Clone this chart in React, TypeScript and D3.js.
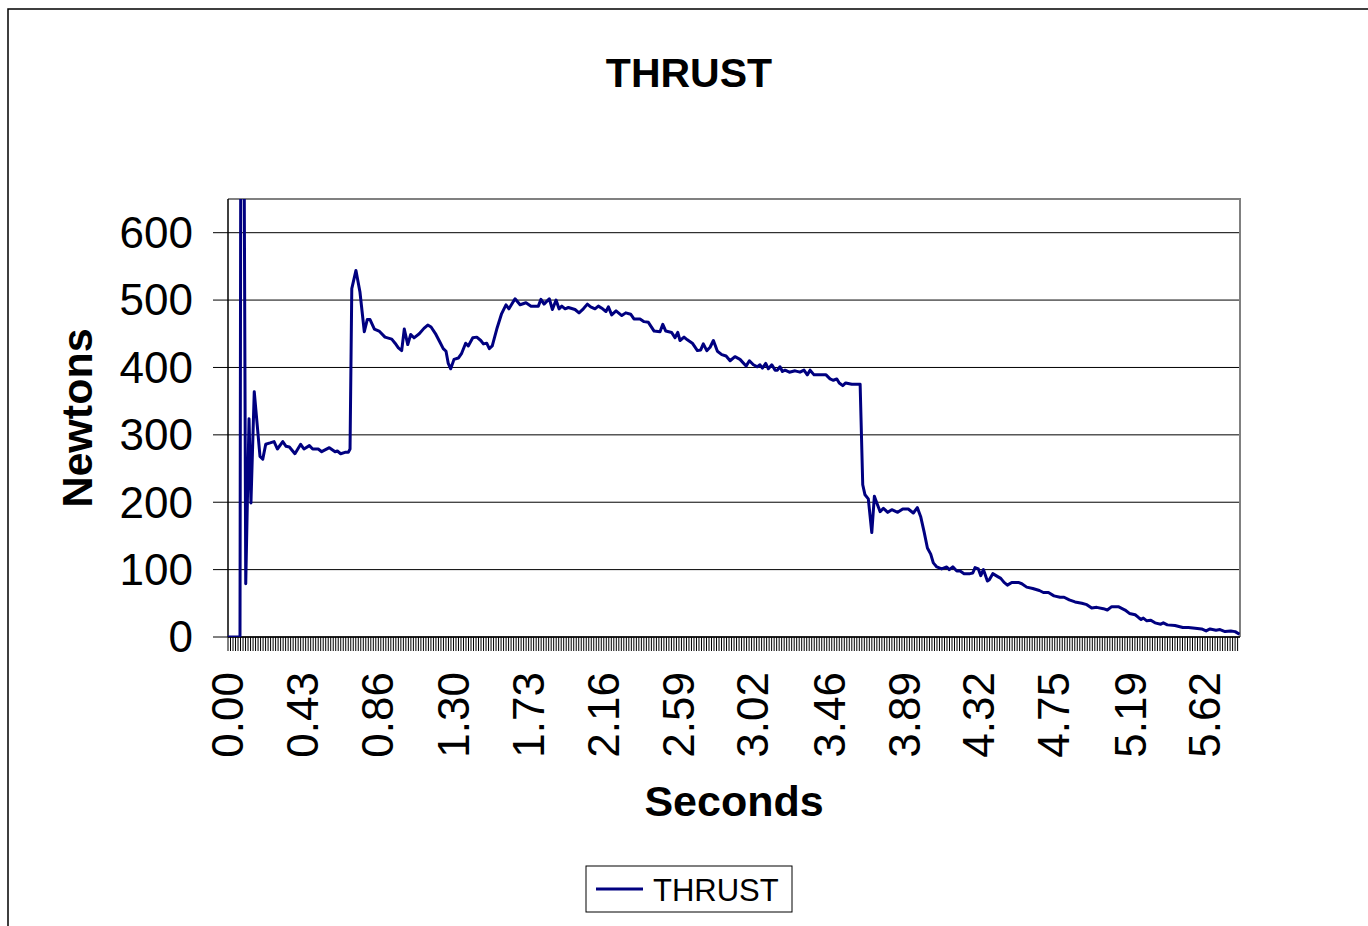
import React from 'react';
import * as d3 from 'd3';

// thrust curve (time in s, thrust in N)
const seconds = [
  0, 0.069, 0.079, 0.102, 0.121, 0.132, 0.151, 0.184, 0.2, 0.217, 0.242, 0.265, 0.284, 0.315, 0.334, 0.353,
  0.385, 0.418, 0.437, 0.468, 0.487, 0.519, 0.539, 0.583, 0.616, 0.629, 0.648, 0.673, 0.692, 0.702, 0.712,
  0.736, 0.759, 0.784, 0.801, 0.817, 0.842, 0.869, 0.903, 0.942, 0.961, 0.98, 0.999, 1.014, 1.034, 1.051,
  1.07, 1.1, 1.127, 1.149, 1.168, 1.196, 1.22, 1.238, 1.254, 1.267, 1.281, 1.3, 1.325, 1.344, 1.367, 1.382,
  1.408, 1.431, 1.454, 1.469, 1.488, 1.503, 1.52, 1.546, 1.574, 1.599, 1.616, 1.651, 1.68, 1.714, 1.743,
  1.785, 1.8, 1.818, 1.848, 1.866, 1.887, 1.904, 1.92, 1.939, 1.958, 1.996, 2.019, 2.044, 2.067, 2.086,
  2.111, 2.13, 2.155, 2.174, 2.188, 2.207, 2.232, 2.265, 2.288, 2.316, 2.335, 2.37, 2.393, 2.418, 2.451,
  2.485, 2.501, 2.518, 2.552, 2.571, 2.587, 2.6, 2.623, 2.642, 2.671, 2.7, 2.719, 2.734, 2.754, 2.773,
  2.792, 2.815, 2.84, 2.865, 2.888, 2.916, 2.945, 2.98, 2.999, 3.022, 3.045, 3.06, 3.074, 3.093, 3.108,
  3.128, 3.147, 3.16, 3.175, 3.189, 3.204, 3.229, 3.262, 3.29, 3.313, 3.332, 3.348, 3.371, 3.405, 3.44,
  3.463, 3.482, 3.502, 3.516, 3.536, 3.553, 3.588, 3.617, 3.636, 3.651, 3.664, 3.683, 3.703, 3.718, 3.732,
  3.751, 3.77, 3.795, 3.818, 3.852, 3.881, 3.913, 3.942, 3.965, 3.985, 4.004, 4.023, 4.042, 4.057, 4.077,
  4.105, 4.134, 4.149, 4.169, 4.192, 4.211, 4.234, 4.268, 4.284, 4.297, 4.316, 4.33, 4.345, 4.368, 4.379,
  4.399, 4.425, 4.445, 4.464, 4.483, 4.508, 4.546, 4.566, 4.594, 4.629, 4.667, 4.69, 4.719, 4.751, 4.786,
  4.809, 4.839, 4.872, 4.911, 4.94, 4.968, 4.997, 5.035, 5.058, 5.083, 5.121, 5.16, 5.185, 5.218, 5.237,
  5.252, 5.265, 5.285, 5.308, 5.332, 5.365, 5.38, 5.403, 5.447, 5.492, 5.524, 5.563, 5.6, 5.626, 5.649,
  5.683, 5.706, 5.735, 5.768, 5.793, 5.818
];
const thrust = [
  0, 0, 1670, 79, 324, 199, 364, 268, 264, 286, 288, 290, 279, 290, 283, 282,
  272, 286, 279, 284, 279, 279, 275, 281, 275, 276, 272, 274, 274, 279, 517,
  544, 512, 453, 471, 471, 457, 454, 445, 442, 436, 429, 425, 457, 434, 449,
  444, 450, 458, 463, 460, 449, 437, 428, 424, 406, 398, 412, 414, 421, 436, 432,
  444, 445, 440, 435, 436, 428, 432, 457, 480, 493, 487, 502, 493, 496, 491,
  491, 501, 494, 502, 486, 500, 487, 491, 487, 489, 486, 481, 487, 494, 490,
  487, 491, 487, 483, 490, 478, 484, 477, 481, 479, 472, 472, 468, 467, 454,
  453, 464, 454, 452, 444, 452, 440, 445, 441, 436, 425, 426, 435, 425, 430,
  440, 424, 419, 417, 410, 416, 412, 402, 410, 404, 401, 404, 399, 406, 398,
  404, 396, 396, 401, 394, 396, 393, 395, 393, 396, 389, 396, 389, 389, 389,
  383, 381, 383, 377, 373, 377, 375, 375, 375, 226, 211, 205, 155, 209, 199,
  186, 191, 185, 189, 185, 190, 190, 184, 192, 178, 156, 132, 123, 110, 104,
  101, 104, 100, 104, 98, 98, 94, 94, 95, 103, 101, 91, 100, 83, 85,
  94, 90, 87, 81, 77, 81, 81, 79, 74, 72, 69, 66, 66, 61, 59,
  59, 55, 52, 50, 48, 43, 44, 42, 40, 45, 45, 40, 35, 33, 29,
  26, 28, 24, 25, 21, 19, 21, 18, 17, 14, 14, 13, 12, 9, 12,
  10, 11, 8, 9, 8, 4
];

const xTickLabels = ['0.00', '0.43', '0.86', '1.30', '1.73', '2.16', '2.59', '3.02', '3.46', '3.89', '4.32', '4.75', '5.19', '5.62'];
const yTicks = [0, 100, 200, 300, 400, 500, 600];
const sampleStep = 0.01441;
const timeMax = 5.821;
const thrustMax = 650;

const font = '"Liberation Sans", Arial, sans-serif';

export default function App() {
  const left = 228, right = 1240, top = 199, bottom = 637;

  const x = d3.scaleLinear().domain([0, timeMax]).range([left, right]);
  const y = d3.scaleLinear().domain([0, thrustMax]).range([bottom, top]);

  const points = seconds.map((t, i) => [t, thrust[i]] as [number, number]);
  const line = d3
    .line<[number, number]>()
    .x(d => x(d[0]))
    .y(d => y(d[1]));

  const minorTicks = d3.range(0, timeMax + 1e-6, sampleStep);

  return (
    <svg
      width={1368}
      height={926}
      style={{ position: 'absolute', left: 0, top: 0, background: '#fff' }}
      fontFamily={font}
    >
      <defs>
        <clipPath id="plotClip">
          <rect x={left} y={top} width={right - left} height={bottom - top} />
        </clipPath>
      </defs>

      {/* chart area border, runs past the window */}
      <rect x={8} y={9} width={1500} height={1100} fill="#fff" stroke="#000" strokeWidth={1.5} />

      <text x={689} y={87} textAnchor="middle" fontSize={41} fontWeight="bold">
        THRUST
      </text>

      {/* grid + y axis */}
      {yTicks.map(v => (
        <g key={v}>
          <line x1={left - 15} x2={right} y1={y(v)} y2={y(v)} stroke="#000" strokeWidth={1} />
          <text x={193} y={y(v)} dy="0.35em" textAnchor="end" fontSize={44}>
            {v}
          </text>
        </g>
      ))}

      {/* plot frame */}
      <path d={`M${left},${top}H${right}V${bottom}`} fill="none" stroke="#808080" strokeWidth={2} />
      <line x1={left} x2={left} y1={top} y2={bottom} stroke="#000" strokeWidth={1.5} />
      <line x1={left} x2={right} y1={bottom} y2={bottom} stroke="#000" strokeWidth={1.5} />

      {/* category ticks */}
      {minorTicks.map((t, i) => (
        <line key={i} x1={x(t)} x2={x(t)} y1={bottom} y2={bottom + 14} stroke="#000" strokeWidth={1} />
      ))}

      {xTickLabels.map(l => (
        <text
          key={l}
          transform={`translate(${x(+l)},672) rotate(-90)`}
          dy="0.35em"
          textAnchor="end"
          fontSize={44}
        >
          {l}
        </text>
      ))}

      <path d={line(points) || ''} fill="none" stroke="#000080" strokeWidth={3} strokeLinejoin="round" clipPath="url(#plotClip)" />

      <text x={(left + right) / 2} y={816} textAnchor="middle" fontSize={43} fontWeight="bold">
        Seconds
      </text>
      <text transform={`translate(92,${(top + bottom) / 2}) rotate(-90)`} textAnchor="middle" fontSize={43} fontWeight="bold">
        Newtons
      </text>

      {/* legend */}
      <rect x={586} y={866} width={206} height={46} fill="#fff" stroke="#000" strokeWidth={1} />
      <line x1={596} x2={643} y1={889} y2={889} stroke="#000080" strokeWidth={3} />
      <text x={653} y={901} fontSize={31}>
        THRUST
      </text>
    </svg>
  );
}
